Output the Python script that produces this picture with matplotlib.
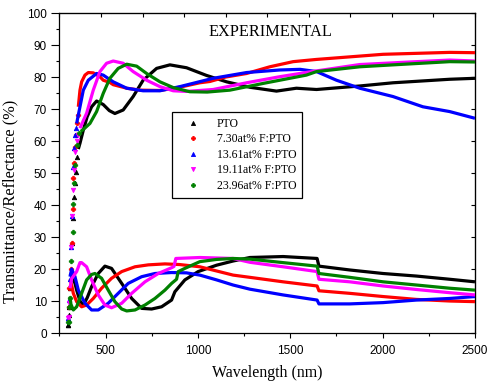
import matplotlib
matplotlib.use("Agg")
import matplotlib.pyplot as plt
from matplotlib.lines import Line2D
import numpy as np

labels = ["PTO", "7.30at% F:PTO", "13.61at% F:PTO", "19.11at% F:PTO", "23.96at% F:PTO"]
colors = ["black", "red", "blue", "magenta", "green"]
markers = ["^", "P", "^", "v", "P"]

# ---- Transmittance: steep absorption edge (separate points) ----
pto_Tedge_wl = [298, 303, 308, 316, 321, 328, 334, 339, 346]
pto_Tedge = [2.5, 8, 14, 28, 36, 42.5, 47, 50.4, 55]
red_Tedge_wl = [310, 316, 321, 325, 330, 334, 339, 343, 348]
red_Tedge = [20, 28, 38.7, 48.3, 53, 58.2, 62, 65.5, 68]
blue_Tedge_wl = [307, 312, 316, 321, 328, 334, 339]
blue_Tedge = [17, 27, 36.5, 52, 57.7, 62, 64]
mag_Tedge_wl = [303, 311, 316, 321, 328, 334, 343, 352]
mag_Tedge = [5, 27, 36.5, 44.7, 51, 56.7, 60, 62]
grn_Tedge_wl = [300, 306, 312, 321, 325, 328, 334, 343, 355]
grn_Tedge = [3.5, 11, 22.5, 31.7, 40.3, 47, 52.5, 58.8, 62.4]

# ---- Transmittance curves ----
pto_T_wl = [352, 361, 379, 400, 424, 451, 487, 520, 550, 595, 649, 703, 776, 848, 938,
            1046, 1155, 1281, 1425, 1533, 1642, 1876, 2056, 2363, 2500]
pto_T = [57.5, 59.3, 63.4, 67.6, 70.7, 72.5, 71.4, 69.5, 68.6, 69.7, 73.9, 79, 82.7, 83.8, 82.9,
         80.5, 78.5, 76.8, 75.6, 76.5, 76.1, 77.2, 78.2, 79.3, 79.6]
red_T_wl = [352, 361, 370, 388, 406, 433, 469, 487, 523, 541, 595, 614, 686, 794, 900,
            1010, 1064, 1150, 1263, 1389, 1515, 1642, 1822, 2002, 2183, 2363, 2500]
red_T = [70.7, 75.9, 78.5, 80.6, 81.4, 81.3, 80.1, 79, 78.3, 77.6, 76.8, 76.5, 75.9, 75.8, 76.8,
         78.2, 78.6, 80, 81.1, 83.2, 84.8, 85.5, 86.3, 87.1, 87.4, 87.7, 87.6]
blue_T_wl = [343, 361, 379, 406, 451, 487, 541, 614, 703, 794, 902, 1082, 1263, 1443, 1553,
             1642, 1750, 1876, 2056, 2218, 2363, 2500]
blue_T = [65.5, 70.7, 75.9, 79, 81.1, 80.6, 78.5, 76.5, 75.7, 75.7, 77, 79.6, 81.4, 82.2, 82.4,
          81.7, 79, 76.5, 73.9, 70.7, 69.2, 67.1]
mag_T_wl = [361, 397, 433, 469, 505, 541, 595, 649, 722, 794, 866, 938, 1082, 1263, 1443,
            1605, 1876, 2183, 2363, 2500]
mag_T = [64, 68.7, 75.9, 81.7, 84.3, 85, 84.3, 81.7, 79, 77, 75.7, 75.5, 76.1, 78.2, 80.1,
         81.6, 83.9, 84.8, 85.3, 85]
grn_T_wl = [365, 379, 415, 451, 487, 523, 568, 614, 668, 722, 794, 866, 956, 1050, 1173,
            1353, 1587, 1642, 1876, 2056, 2363, 2500]
grn_T = [63, 63.6, 65.5, 69.2, 74.9, 79.6, 82.7, 84, 83.4, 81.1, 78.5, 76.7, 75.4, 75.3, 75.9,
         78, 80.6, 81.7, 83.2, 83.8, 84.8, 84.7]

# ---- Reflectance: first points ----
pto_Redge_wl = [298, 302]
pto_Redge = [2.5, 5.6]
red_Redge_wl = [300, 303]
red_Redge = [8, 14]
blue_Redge_wl = [298, 302]
blue_Redge = [4.6, 10.3]
mag_Redge_wl = [298, 302]
mag_Redge = [4.6, 9.3]
grn_Redge_wl = [298, 303]
grn_Redge = [3.5, 8]

# ---- Reflectance curves ----
pto_R_wl = [307, 316, 334, 343, 361, 379, 400, 424, 460, 496, 532, 587, 641, 695, 749, 803,
            857, 875, 929, 1001, 1101, 1190, 1281, 1461, 1645, 1655, 1822, 2002, 2183, 2363, 2500]
pto_R = [18.6, 18, 15.5, 13.4, 10, 8.75, 11, 14.5, 18.6, 20.9, 20.2, 15.5, 10.8, 7.7, 7.5, 8.2,
         10.3, 12.9, 16.6, 19.2, 21.2, 22.5, 23.6, 23.9, 23.3, 20.9, 19.7, 18.6, 17.8, 16.8, 16]
red_R_wl = [307, 316, 325, 343, 370, 397, 433, 478, 532, 587, 659, 731, 821, 900, 1010, 1190,
            1281, 1461, 1645, 1655, 1822, 2002, 2183, 2363, 2500]
red_R = [16.8, 15, 12.4, 9.8, 8.2, 8.75, 10.8, 14, 17.1, 19.2, 20.7, 21.3, 21.6, 21.4, 20.7, 18.1,
         17.4, 16, 14.7, 13.2, 12.4, 11.4, 10.5, 10, 9.8]
blue_R_wl = [307, 316, 334, 352, 388, 424, 460, 514, 568, 622, 695, 767, 857, 938, 1010, 1101,
             1190, 1281, 1461, 1645, 1655, 1822, 2002, 2183, 2363, 2500]
blue_R = [17.6, 20, 17.6, 13.4, 9.3, 7.2, 7.2, 9.3, 12.4, 15.5, 17.6, 18.6, 18.9, 18.8, 18.1, 16.6,
          15, 13.7, 11.9, 10.3, 9.1, 9.1, 9.5, 10.3, 10.8, 11.4]
mag_R_wl = [307, 316, 343, 361, 370, 397, 424, 460, 496, 532, 587, 641, 713, 785, 857, 870,
            880, 1010, 1190, 1281, 1461, 1645, 1655, 1822, 2002, 2183, 2363, 2500]
mag_R = [14, 17, 19.2, 22, 22, 20.7, 16.6, 11.9, 8.75, 7.9, 9.3, 12.4, 16, 18.6, 20.4, 20.8,
         23.3, 23.6, 23.3, 22.1, 20.7, 19.2, 16.8, 16, 14.7, 13.6, 12.6, 11.9]
grn_R_wl = [307, 312, 325, 343, 370, 397, 424, 442, 478, 514, 550, 587, 614, 659, 713, 767,
            821, 857, 884, 893, 929, 1010, 1101, 1190, 1281, 1461, 1645, 1655, 1822, 2002,
            2183, 2363, 2500]
grn_R = [11.4, 9, 7.2, 8.2, 12.4, 16.6, 18.3, 18.6, 17.1, 13.4, 9.8, 7.5, 6.9, 7.2, 8.75, 10.8,
         13.4, 15.5, 16.8, 19.2, 20.2, 22.3, 23, 23.3, 23.1, 22, 20.9, 18.6, 17.4, 16,
         15, 14, 13.4]

x_major = [500, 1000, 1500, 2000, 2500]
y_major = list(range(0, 101, 10))

series = [
    (pto_Tedge_wl, pto_Tedge, pto_T_wl, pto_T, pto_Redge_wl, pto_Redge, pto_R_wl, pto_R),
    (red_Tedge_wl, red_Tedge, red_T_wl, red_T, red_Redge_wl, red_Redge, red_R_wl, red_R),
    (blue_Tedge_wl, blue_Tedge, blue_T_wl, blue_T, blue_Redge_wl, blue_Redge, blue_R_wl, blue_R),
    (mag_Tedge_wl, mag_Tedge, mag_T_wl, mag_T, mag_Redge_wl, mag_Redge, mag_R_wl, mag_R),
    (grn_Tedge_wl, grn_Tedge, grn_T_wl, grn_T, grn_Redge_wl, grn_Redge, grn_R_wl, grn_R),
]

serif = "Liberation Serif"
sans = "Liberation Sans"

fig = plt.figure(figsize=(4.94, 3.83), dpi=100)
ax = fig.add_axes([0.1204, 0.1305, 0.8411, 0.8355])

for (tew, tev, tw, tv, rew, rev, rw, rv), c, m in zip(series, colors, markers):
    ax.plot(tw, tv, color=c, lw=2.3, solid_capstyle="butt", zorder=3)
    ax.plot(rw, rv, color=c, lw=2.3, solid_capstyle="butt", zorder=3)
    ax.plot(tew, tev, linestyle="none", marker=m, color=c, ms=3.2, mew=0.6, zorder=3)
    ax.plot(rew, rev, linestyle="none", marker=m, color=c, ms=3.2, mew=0.6, zorder=3)

ax.set_xlim(250, 2500)
ax.set_ylim(0, 100)
ax.set_xticks(x_major)
ax.set_xticks([250, 750, 1250, 1750, 2250], minor=True)
ax.set_yticks(y_major)
ax.set_yticks(list(range(5, 100, 10)), minor=True)
ax.tick_params(axis="x", which="major", direction="out", length=3.5, width=0.8,
               labelsize=8.5, pad=5)
ax.tick_params(axis="y", which="major", direction="out", length=5.5, width=0.8,
               labelsize=8.5, pad=3.5)
ax.tick_params(axis="both", which="minor", direction="out", length=2.5, width=0.8)
for lab in ax.get_xticklabels() + ax.get_yticklabels():
    lab.set_fontfamily(sans)
for sp in ax.spines.values():
    sp.set_linewidth(0.9)

# top and right inward ticks
top = ax.secondary_xaxis("top")
top.set_xticks(list(np.linspace(250, 2500, 11)))
top.tick_params(direction="in", length=3, width=0.8, labeltop=False)
right = ax.secondary_yaxis("right")
right.set_yticks(y_major)
right.tick_params(direction="in", length=3, width=0.8, labelright=False)

ax.set_xlabel("Wavelength (nm)", fontfamily=serif, fontsize=11.4, labelpad=6)
ax.set_ylabel("Transmittance/Reflectance (%)", fontfamily=serif, fontsize=11.8)
ax.yaxis.set_label_coords(-0.10, 0.41)

ax.text(0.507, 0.94, "EXPERIMENTAL", transform=ax.transAxes, ha="center", va="center",
        fontfamily=serif, fontsize=11.7)

handles = [Line2D([], [], linestyle="none", marker=m, color=c, ms=3, mew=0.6)
           for c, m in zip(colors, markers)]
leg = ax.legend(handles, labels, loc="upper left", bbox_to_anchor=(0.271, 0.691),
                prop={"family": serif, "size": 8.5}, frameon=True, fancybox=False,
                edgecolor="black", framealpha=1, borderpad=0.5, labelspacing=0.3,
                handlelength=2.5, handletextpad=0.8, borderaxespad=0)
leg.get_frame().set_linewidth(0.9)

fig.savefig("out.png", dpi=100)
